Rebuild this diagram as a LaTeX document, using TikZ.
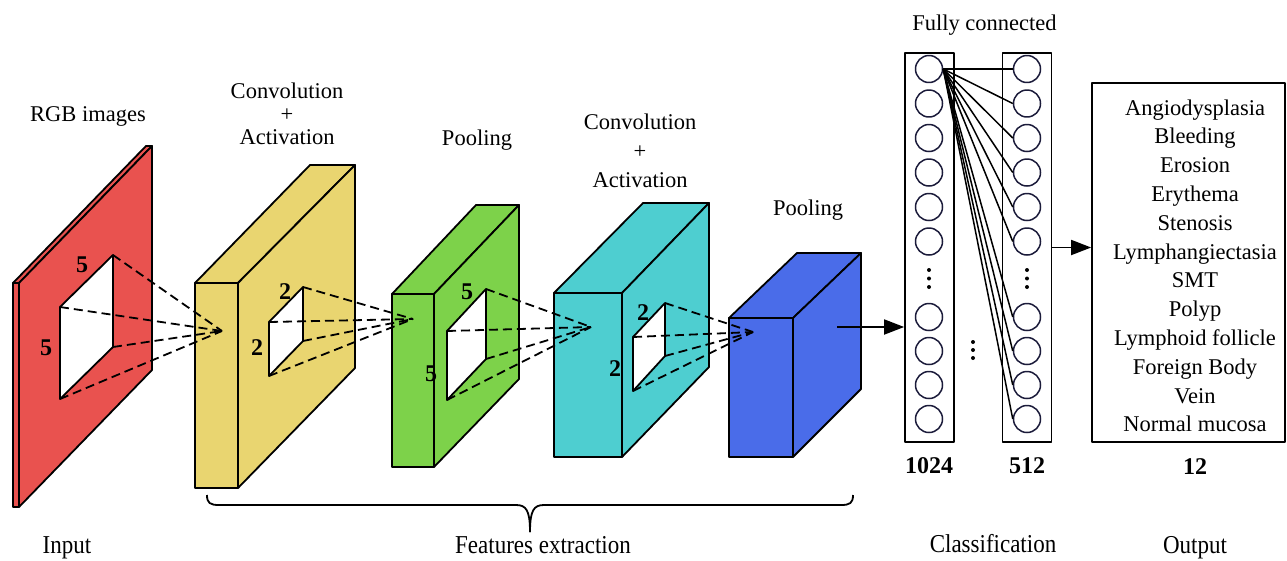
\documentclass[tikz,border=0pt]{standalone}
\usepackage{fontspec}
\setmainfont{Liberation Serif}
\usetikzlibrary{arrows.meta}
\definecolor{cred}{HTML}{E9524F}
\definecolor{cyel}{HTML}{E9D570}
\definecolor{cgrn}{HTML}{7DD24A}
\definecolor{ccyan}{HTML}{4ECED0}
\definecolor{cblue}{HTML}{4A6CE9}
\definecolor{cnav}{HTML}{1B1B3A}
\begin{document}
\begin{tikzpicture}[x=1pt,y=-1pt,line join=round,
  face/.style={draw=black,line width=1.8pt},
  holeface/.style={fill=white,draw=black,line width=1.8pt},
  dashline/.style={dash pattern=on 9pt off 5pt,line width=1.8pt},
  lbl/.style={font=\fontsize{22.5}{23}\selectfont,inner sep=0pt,anchor=base},
  bot/.style={font=\fontsize{23}{24}\selectfont,inner sep=0pt,anchor=base,yscale=1.12},
  num/.style={font=\fontsize{24}{26}\selectfont\bfseries,inner sep=0pt},
  neuron/.style={circle,draw=cnav,line width=1.5pt,minimum size=27pt,inner sep=0pt},
  fcbox/.style={draw,line width=1.7pt,minimum width=49pt,minimum height=389pt,inner sep=0pt},
  arr/.style={-{Triangle[length=20pt,width=15pt]},line width=1.8pt}]
\useasboundingbox (0,0) rectangle (1287,560);

% ---------- Input (red planes)
\filldraw[fill=cred,face] (13,283) -- (146,146) -- (152,146) -- (19,283) -- cycle;
\filldraw[fill=cred,face] (13,283) rectangle (19,507);
\filldraw[fill=cred,face] (19,283) -- (152,146) -- (152,370) -- (19,507) -- cycle;
\filldraw[holeface] (60,307) -- (113,255) -- (113,347) -- (60,399) -- cycle;
\coordinate (r1) at (113,255); \coordinate (r2) at (60,307);
\coordinate (r3) at (113,347); \coordinate (r4) at (60,399);
\node[num] (rk1) at (82,265) {5};
\node[num] (rk2) at (46,348) {5};

% ---------- Conv 1 (yellow)
\filldraw[fill=cyel,face] (195,283) rectangle (238,488);
\filldraw[fill=cyel,face] (195,283) -- (310,165) -- (355,165) -- (238,283) -- cycle;
\filldraw[fill=cyel,face] (238,283) -- (355,165) -- (355,368) -- (238,488) -- cycle;
\filldraw[holeface] (269,322) -- (303,287) -- (303,341) -- (269,376) -- cycle;
\coordinate (y1) at (303,287); \coordinate (y2) at (269,322);
\coordinate (y3) at (303,341); \coordinate (y4) at (269,376);
\coordinate (A1) at (222,331);
\node[num] (yk1) at (285,292) {2};
\node[num] (yk2) at (257,348) {2};

% ---------- Pool 1 (green)
\filldraw[fill=cgrn,face] (392,294) rectangle (434,467);
\filldraw[fill=cgrn,face] (392,294) -- (476,205) -- (519,205) -- (434,294) -- cycle;
\filldraw[fill=cgrn,face] (434,294) -- (519,205) -- (519,379) -- (434,467) -- cycle;
\filldraw[holeface] (447,331) -- (486,289) -- (486,359) -- (447,400) -- cycle;
\coordinate (g1) at (486,289); \coordinate (g2) at (447,331);
\coordinate (g3) at (486,359); \coordinate (g4) at (447,400);
\coordinate (A2) at (413,319);
\node[num] (gk1) at (467,292) {5};
\node[num] (gk2) at (431,374) {5};

% ---------- Conv 2 (cyan)
\filldraw[fill=ccyan,face] (554,293) rectangle (622,457);
\filldraw[fill=ccyan,face] (554,293) -- (643,203) -- (709,203) -- (622,293) -- cycle;
\filldraw[fill=ccyan,face] (622,293) -- (709,203) -- (709,367) -- (622,457) -- cycle;
\filldraw[holeface] (633,337) -- (665,303) -- (665,356) -- (633,391) -- cycle;
\coordinate (c1) at (665,303); \coordinate (c2) at (633,337);
\coordinate (c3) at (665,356); \coordinate (c4) at (633,391);
\coordinate (A3) at (591,327);
\node[num] (ck1) at (643,313) {2};
\node[num] (ck2) at (615,369) {2};

% ---------- Pool 2 (blue)
\filldraw[fill=cblue,face] (729,318) rectangle (793,457);
\filldraw[fill=cblue,face] (729,318) -- (797,253) -- (861,253) -- (793,318) -- cycle;
\filldraw[fill=cblue,face] (793,318) -- (861,253) -- (861,389) -- (793,457) -- cycle;
\coordinate (A4) at (753,332);
\coordinate (bout) at (837,327);

% ---------- dashed receptive-field lines
\foreach \p in {r1,r2,r3,r4} \draw[dashline] (\p) -- (A1);
\foreach \p in {y1,y2,y3,y4} \draw[dashline] (\p) -- (A2);
\foreach \p in {g1,g2,g3,g4} \draw[dashline] (\p) -- (A3);
\foreach \p in {c1,c2,c3,c4} \draw[dashline] (\p) -- (A4);

% ---------- Fully connected
\node[fcbox] (fc1) at (929.5,247.5) {};
\node[fcbox] (fc2) at (1027,247.5) {};
\foreach \i/\yy in {1/69,2/103.5,3/138,4/172.5,5/207,6/241.5,7/317,8/351,9/385,10/419}{
  \node[neuron] (L\i) at (929,\yy) {};
  \node[neuron] (R\i) at (1027,\yy) {};
}
\foreach \i in {1,...,10} \draw[line width=1.5pt] (L1.east) -- (R\i.west);
\foreach \yy in {270,278.5,287}{
  \fill (929,\yy) circle (2);
  \fill (1027,\yy) circle (2);
}
\foreach \yy in {342,350,358} \fill (973,\yy) circle (2);

\draw[arr] (bout) -- (bout -| fc1.west);

% ---------- Output
\node[draw,line width=1.7pt,minimum width=193pt,minimum height=359pt,inner sep=0pt] (outbox) at (1188.5,262.5) {};
\draw[arr] (fc2.east) -- (fc2.east -| outbox.west);
\foreach \t [count=\k from 0] in {Angiodysplasia,Bleeding,Erosion,Erythema,Stenosis,Lymphangiectasia,SMT,Polyp,Lymphoid follicle,Foreign Body,Vein,Normal mucosa}
  \node[lbl] (out\k) at (1195,115+28.8*\k) {\t};

% ---------- Labels
\node[lbl] (rgb) at (88,121) {RGB images};
\node[lbl] (cva) at (287,98) {Convolution};
\node[lbl] (cvb) at (287,121) {+};
\node[lbl] (cvc) at (287,144) {Activation};
\node[lbl] (pl1) at (477,145) {Pooling};
\node[lbl] (cwa) at (640,129) {Convolution};
\node[lbl] (cwb) at (640,158) {+};
\node[lbl] (cwc) at (640,187) {Activation};
\node[lbl] (pl2) at (808,215) {Pooling};
\node[lbl] (fcl) at (984.5,30) {Fully connected};
\node[num,anchor=base] (n1024) at (929,473) {1024};
\node[num,anchor=base] (n512) at (1027,473) {512};
\node[num,anchor=base] (n12) at (1195,474) {12};

% ---------- Brace
\draw[line width=1.8pt] (207,495) .. controls (207,503) and (210,505) .. (219,505) -- (516,505) .. controls (526,505) and (530,510) .. (530,532);
\draw[line width=1.8pt] (853,495) .. controls (853,503) and (850,505) .. (841,505) -- (544,505) .. controls (534,505) and (530,510) .. (530,532);

\node[bot] (inp) at (67,553) {Input};
\node[bot] (fex) at (543,553) {Features extraction};
\node[bot] (cls) at (993,552) {Classification};
\node[bot] (outl) at (1195,553) {Output};
\end{tikzpicture}
\end{document}
